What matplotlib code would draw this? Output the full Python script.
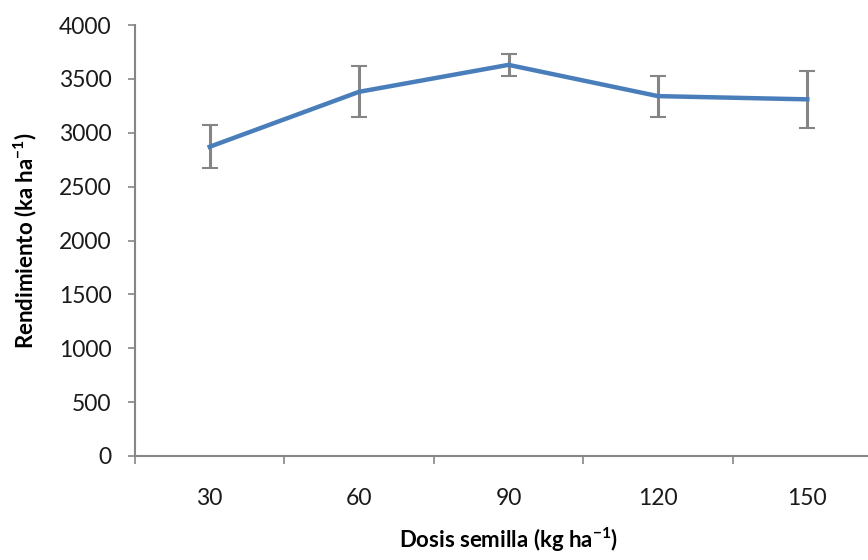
import numpy as np
import matplotlib
matplotlib.use("Agg")
import matplotlib.pyplot as plt
from matplotlib.ticker import FixedLocator

plt.rcParams['font.family'] = ['Lato', 'DejaVu Sans']
plt.rcParams['mathtext.fontset'] = 'custom'
plt.rcParams['mathtext.rm'] = 'Lato'

# Datos
dosis = ['30', '60', '90', '120', '150']
rendimiento = [2870, 3380, 3630, 3340, 3310]
error = [200, 235, 105, 190, 265]

fig = plt.figure(figsize=(8.68, 5.60), dpi=100)
ax = fig.add_axes([135 / 868, 104 / 560, 747 / 868, 431 / 560])

pos = np.arange(len(dosis)) + 0.5
ax.errorbar(pos, rendimiento, yerr=error, fmt='none', ecolor='#858585',
            elinewidth=2.2, capsize=6, capthick=1.5, zorder=2)
ax.plot(pos, rendimiento, color='#4a7ebb', lw=3.2, zorder=3)

ax.set_xlim(0, len(dosis))
ax.set_ylim(0, 4000)
ax.set_yticks(np.arange(0, 4001, 500))
ax.set_xticks(pos)
ax.set_xticklabels(dosis)
ax.xaxis.set_minor_locator(FixedLocator(np.arange(len(dosis) + 1)))

ax.tick_params(axis='x', which='major', length=0, pad=23, labelsize=16.5, labelcolor='#1a1a1a')
ax.tick_params(axis='x', which='minor', length=6, width=1.2, color='#868686')
ax.tick_params(axis='y', length=5, width=1.2, color='#868686', pad=12, labelsize=16.5, labelcolor='#1a1a1a')

for s in ['top', 'right']:
    ax.spines[s].set_visible(False)
for s in ['left', 'bottom']:
    ax.spines[s].set_color('#868686')
    ax.spines[s].set_linewidth(1.5)

ax.set_xlabel(r'Dosis semilla (kg ha$^{\mathregular{-1}}$)', fontsize=16, fontweight='bold', labelpad=12)
ax.set_ylabel(r'Rendimiento (ka ha$^{\mathregular{-1}}$)', fontsize=16, fontweight='bold', labelpad=14)

fig.savefig('out.png', dpi=100)
